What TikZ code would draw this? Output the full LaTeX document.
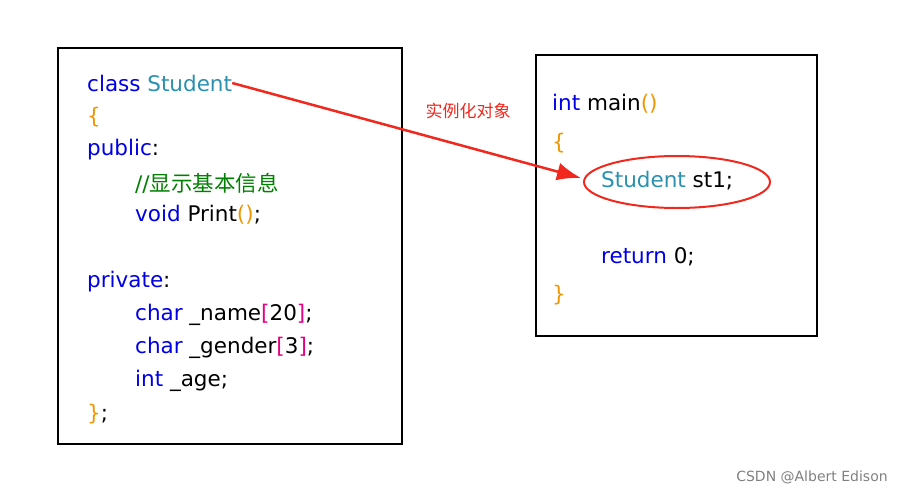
\documentclass[tikz,border=0pt]{standalone}
\usepackage{fontspec}
\setmainfont{DejaVu Sans}
\newfontfamily\cjk{Noto Sans CJK SC}
\usetikzlibrary{arrows.meta, shapes.geometric}
\definecolor{kw}{RGB}{0,0,230}
\definecolor{cls}{RGB}{43,145,175}
\definecolor{brc}{RGB}{240,150,0}
\definecolor{brk}{RGB}{230,0,130}
\definecolor{cmt}{RGB}{0,128,0}
\definecolor{arr}{RGB}{240,40,30}
\newcommand{\kw}[1]{\textcolor{kw}{#1}}
\newcommand{\brc}[1]{\textcolor{brc}{#1}}
\newcommand{\brk}[1]{\textcolor{brk}{#1}}
\begin{document}
\begin{tikzpicture}[x=1pt,y=-1pt]
    \tikzstyle{code}=[anchor=west,inner sep=0pt,font=\fontsize{21.5}{24}\selectfont]
    \tikzstyle{frame}=[draw,line width=2.2pt]
    \useasboundingbox (0,0) rectangle (916,493);

    \draw[frame] (58,48) rectangle (402,444);
    \draw[frame] (536,55) rectangle (817,336);

    \node[code] (cls) at (87,83) {\kw{class} \textcolor{cls}{Student}};
    \node[code] (l2) at (87,117) {\brc{\{}};
    \node[code] (l3) at (87,150) {\kw{public}:};
    \node[code] (l4) at (135,183) {\textcolor{cmt}{//{\cjk 显示基本信息}}};
    \node[code] (l5) at (135,215) {\kw{void} Print\brc{()};};
    \node[code] (l6) at (87,282) {\kw{private}:};
    \node[code] (l7) at (135,315) {\kw{char} \_name\brk{[}20\brk{]};};
    \node[code] (l8) at (135,348) {\kw{char} \_gender\brk{[}3\brk{]};};
    \node[code] (l9) at (135,381) {\kw{int} \_age;};
    \node[code] (l10) at (87,414) {\brc{\}};};

    \node[code] (m1) at (552,104) {\kw{int} main\brc{()}};
    \node[code] (m2) at (552,143) {\brc{\{}};
    \node[code] (st) at (601,181) {\textcolor{cls}{Student} st1;};
    \node[code] (m4) at (601,257) {\kw{return} 0;};
    \node[code] (m5) at (552,295) {\brc{\}}};

    \node[draw=arr,line width=2pt,ellipse,minimum width=186pt,minimum height=52pt] (ring) at (677,182) {};
    \node[text=arr,font=\cjk\fontsize{17}{19}\selectfont] (lbl) at (468,111) {实例化对象};
    \coordinate (tip) at (581,178);

    \draw[arr,line width=2.5pt,-{Latex[length=24pt,width=18pt]}] (cls.east) -- (tip);

    \node[text=gray,font=\fontsize{14}{16}\selectfont] (mark) at (812,477) {CSDN @Albert Edison};
\end{tikzpicture}
\end{document}
